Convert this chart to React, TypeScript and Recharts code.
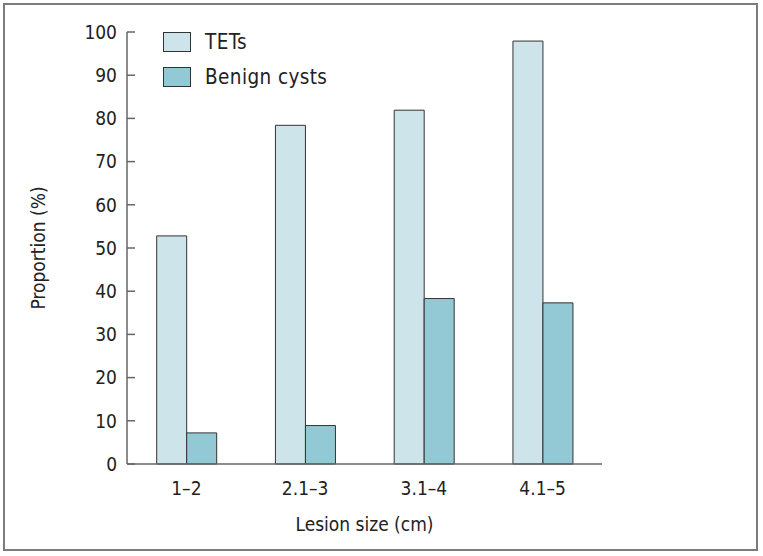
import { Bar, BarChart, Label, Legend, XAxis, YAxis } from 'recharts'

const sizes = ['1–2', '2.1–3', '3.1–4', '4.1–5']
const tets = [52.8, 78.4, 81.9, 97.9]
const benignCysts = [7.2, 8.9, 38.3, 37.3]
const yTicks = [0, 10, 20, 30, 40, 50, 60, 70, 80, 90, 100]
const seriesNames = ['TETs', 'Benign cysts']

const FONT = '"DejaVu Sans Condensed", "DejaVu Sans", sans-serif'
const TEXT = '#222'

const data = sizes.map((size, i) => ({ size, tets: tets[i], benign: benignCysts[i] }))

function LegendBox({ payload }: any) {
  const items = [...(payload || [])].sort(
    (a: any, b: any) => seriesNames.indexOf(a.value) - seriesNames.indexOf(b.value)
  )
  return (
    <div style={{ fontFamily: FONT, fontSize: 20.5, color: TEXT, letterSpacing: 0.4 }}>
      {items.map((p: any) => (
        <div key={p.value} style={{ display: 'flex', alignItems: 'center', height: 35 }}>
          <svg width={28} height={20} style={{ marginRight: 14 }}>
            <rect x={0.5} y={0.5} width={27} height={19} fill={p.color} stroke="#333" />
          </svg>
          <span>{p.value}</span>
        </div>
      ))}
    </div>
  )
}

export default function App() {
  return (
    <div style={{ position: 'absolute', left: 0, top: 0, width: 763, height: 556, background: '#fff' }}>
      <div
        style={{
          position: 'absolute',
          left: 3,
          top: 3,
          width: 755,
          height: 548,
          boxSizing: 'border-box',
          border: '2px solid #7c7c7c',
        }}
      />
      <div style={{ position: 'absolute', left: 0, top: 0 }}>
        <BarChart
          width={763}
          height={556}
          data={data}
          margin={{ top: 32, right: 161, bottom: 0, left: 0 }}
          barCategoryGap="25%"
          barGap={0}
        >
          <XAxis
            dataKey="size"
            height={92}
            tickLine={false}
            tickSize={8}
            tickMargin={10}
            axisLine={{ stroke: '#666', strokeWidth: 1.5 }}
            tick={{ fontFamily: FONT, fontSize: 19, fill: TEXT }}
          >
            <Label
              value="Lesion size (cm)"
              position="insideBottom"
              offset={25}
              style={{ fontFamily: FONT, fontSize: 19, fill: TEXT }}
            />
          </XAxis>
          <YAxis
            width={127}
            domain={[0, 100]}
            ticks={yTicks}
            interval={0}
            tickSize={-8}
            tickMargin={18}
            axisLine={{ stroke: '#666', strokeWidth: 1.5 }}
            tickLine={{ stroke: '#666', strokeWidth: 1.5 }}
            tick={{ fontFamily: FONT, fontSize: 19, fill: TEXT }}
          >
            <Label
              value="Proportion (%)"
              angle={-90}
              position="insideLeft"
              offset={38}
              style={{ fontFamily: FONT, fontSize: 19, fill: TEXT, textAnchor: 'middle' }}
            />
          </YAxis>
          <Legend
            layout="vertical"
            verticalAlign="middle"
            align="center"
            content={<LegendBox />}
            wrapperStyle={{ top: 24, left: 163, width: 220 }}
          />
          <Bar dataKey="tets" name="TETs" fill="#cde4ea" stroke="#333" strokeWidth={1} isAnimationActive={false} />
          <Bar dataKey="benign" name="Benign cysts" fill="#92c9d5" stroke="#333" strokeWidth={1} isAnimationActive={false} />
        </BarChart>
      </div>
    </div>
  )
}
